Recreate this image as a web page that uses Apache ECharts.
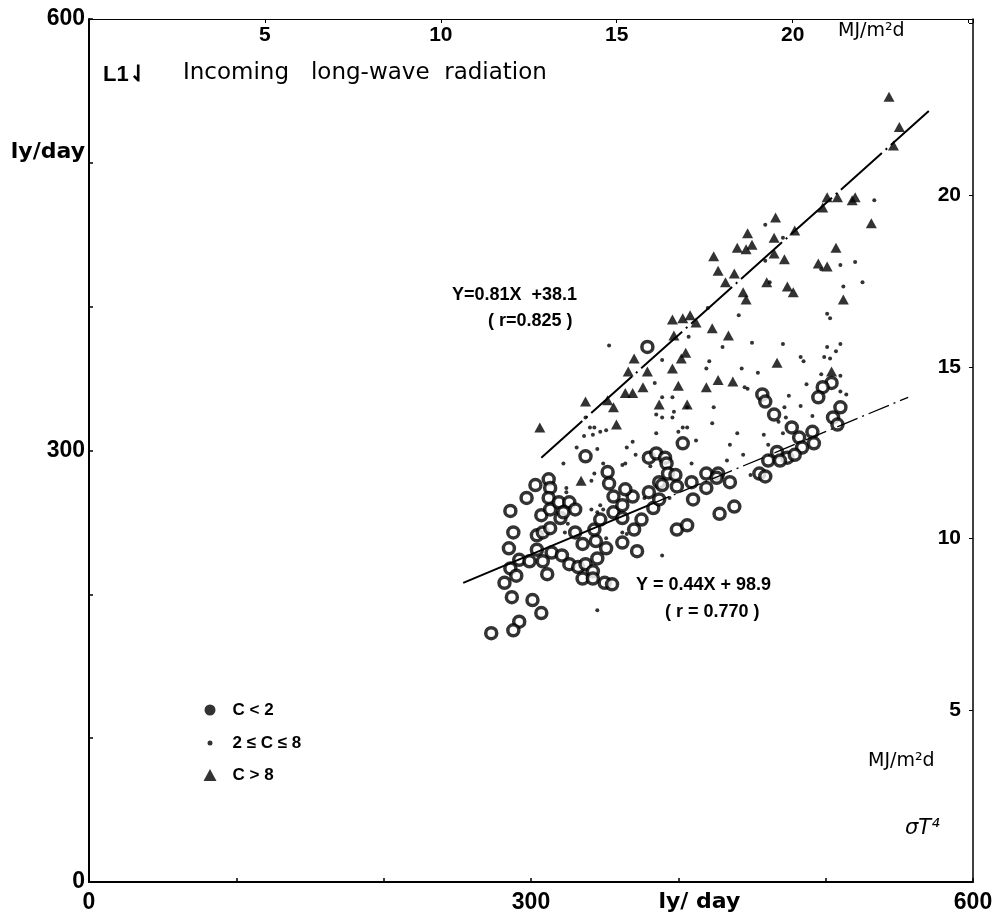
<!DOCTYPE html>
<html lang="en">
<head>
  <meta charset="utf-8" />
  <title>Incoming long-wave radiation</title>
  <style>
    html, body { margin: 0; padding: 0; background: #fff; }
    #main { width: 999px; height: 920px; }
  </style>
</head>
<body>
  <div id="main"></div>
  <script src="https://cdn.jsdelivr.net/npm/echarts@6/dist/echarts.min.js"></script>
  <script>
    "use strict";

    // 1 MJ/m2 = 23.88 ly
    var LY_PER_MJ = 23.88;
    var lyMax = 600;
    var mjMax = lyMax / LY_PER_MJ;

    var lyLabels = [0, 300, 600];
    var mjLabels = [5, 10, 15, 20];

    // C < 2 (clear sky)
    var circlePts = [
      [312, 280], [303, 276], [313, 274], [297, 267], [312, 267], [286, 258], [307, 255], [313, 259],
      [319, 264], [326, 264], [320, 253], [322, 257], [330, 259], [337, 296], [352, 285], [353, 277],
      [356, 268], [356, 257], [288, 243], [304, 241], [308, 243], [313, 246], [330, 243], [335, 235],
      [344, 237], [343, 245], [347, 252], [285, 232], [304, 231], [314, 229], [321, 227], [292, 224],
      [299, 223], [308, 223], [326, 221], [332, 219], [337, 221], [351, 232], [345, 225], [286, 218],
      [290, 213], [311, 214], [335, 211], [342, 216], [342, 211], [350, 208], [355, 207], [282, 208],
      [287, 198], [301, 196], [307, 187], [292, 181], [288, 175], [273, 173],
      [403, 305], [380, 295], [385, 298], [391, 295], [392, 291], [393, 284], [398, 283], [387, 278],
      [389, 276], [399, 275], [409, 278], [419, 284], [427, 284], [426, 281], [419, 274], [435, 278],
      [410, 266], [383, 260], [387, 266], [380, 271], [369, 268], [364, 273], [362, 262], [362, 253],
      [370, 245], [375, 252], [362, 236], [372, 230], [399, 245], [406, 248], [428, 256], [438, 261],
      [457, 339], [459, 334], [455, 284], [459, 282], [461, 293],
      [504, 347], [498, 344], [495, 337], [510, 330], [505, 323], [508, 318], [491, 313], [492, 305],
      [482, 309], [484, 302], [477, 316], [465, 325], [467, 299], [474, 295], [479, 297], [469, 293],
      [379, 372]
    ];

    // 2 <= C <= 8
    var dotPts = [
      [337, 323], [331, 302], [322, 291], [336, 310], [342, 311], [340, 316], [343, 316], [347, 313],
      [351, 314], [345, 301], [349, 291], [343, 284], [341, 279], [324, 274], [324, 271], [325, 249],
      [323, 243], [341, 259], [345, 257], [349, 259], [347, 262], [351, 239], [345, 189],
      [389, 227], [406, 330], [400, 313], [403, 316], [406, 316], [384, 347], [396, 337], [389, 337],
      [385, 325], [389, 323], [396, 323], [397, 327], [385, 312], [369, 306], [365, 302], [371, 297],
      [364, 291], [362, 290], [381, 289], [409, 291], [412, 307], [423, 319], [424, 330], [435, 304],
      [440, 312], [444, 297], [433, 293], [449, 283], [419, 357], [443, 357], [454, 354], [445, 344],
      [447, 343], [458, 311], [461, 304], [377, 267], [394, 267], [365, 242], [362, 243],
      [497, 353], [510, 352], [514, 339], [510, 341], [487, 346], [475, 338], [483, 331], [472, 330],
      [473, 323], [491, 324], [471, 312], [468, 320],
      [533, 474], [471, 448], [520, 431], [510, 429], [497, 426], [525, 417], [512, 414], [501, 395],
      [503, 392], [471, 374], [501, 372], [510, 374], [507, 369], [483, 365], [485, 362], [499, 365],
      [503, 364], [462, 417], [459, 457], [459, 432], [420, 399], [441, 394], [407, 379], [430, 372],
      [450, 375], [389, 363], [421, 362], [353, 373]
    ];

    // C > 8 (overcast)
    var trianglePts = [
      [337, 334], [306, 316], [358, 318], [356, 330], [334, 279], [352, 335],
      [400, 345], [419, 344], [427, 349], [437, 348], [406, 332], [387, 332], [376, 344], [369, 340],
      [364, 340], [379, 355], [366, 355], [396, 357], [504, 355],
      [543, 546], [550, 525], [546, 512], [501, 476], [508, 476], [518, 474], [520, 476], [498, 469],
      [479, 453], [466, 462], [465, 448], [465, 437], [472, 433], [531, 458], [507, 441], [495, 430],
      [501, 428], [474, 414], [478, 410], [512, 405], [467, 361],
      [447, 451], [440, 441], [446, 440], [450, 443], [424, 435], [427, 425], [438, 423], [432, 417],
      [444, 410], [446, 405], [460, 417], [396, 391], [403, 392], [408, 394], [412, 389], [397, 380],
      [423, 385], [434, 380], [405, 368], [402, 364], [370, 364]
    ];

    // regression lines as drawn
    var upperFit = [[307, 295], [570, 536]];
    var lowerFitSolid = [[254, 208], [380, 262]];
    var lowerFitDash = [[380, 262], [556, 337]];

    var numFont = 'Liberation Sans';
    var wordFont = 'DejaVu Sans';
    var black = '#000';

    var chart = echarts.init(document.getElementById('main'), null, { renderer: 'canvas' });

    function legendFor(name, icon, w, h, cy, pad) {
      return {
        data: [{ name: name, icon: icon }],
        left: 205 - w / 2,
        top: cy - 10,
        itemWidth: w,
        itemHeight: h,
        itemStyle: { color: black, borderWidth: 0 },
        selectedMode: false,
        textStyle: {
          fontFamily: numFont, fontSize: 17, fontWeight: 'bold', color: black,
          lineHeight: 20, padding: [0, 0, 0, pad]
        }
      };
    }

    var option = {
      animation: false,
      backgroundColor: '#fff',
      grid: { left: 89, right: 26, top: 19, bottom: 38 },
      legend: [
        legendFor('C < 2', 'circle', 11, 11, 705, 12),
        legendFor('2 \u2264 C \u2264 8', 'circle', 5, 5, 738, 15),
        legendFor('C > 8', 'triangle', 13, 12, 770, 11)
      ],
      xAxis: [{
        type: 'value', position: 'bottom', min: 0, max: lyMax, interval: 100,
        axisLine: { onZero: false, lineStyle: { color: black, width: 2 } },
        axisTick: { show: true, inside: true, length: 4, lineStyle: { color: black, width: 1.5 } },
        splitLine: { show: false },
        axisLabel: {
          margin: 9, showMinLabel: true, showMaxLabel: true,
          fontFamily: numFont, fontSize: 23, fontWeight: 'bold', color: black,
          formatter: function (v) {
            if (lyLabels.indexOf(v) >= 0) return String(v);
            if (v === 400) return '{u|ly/ day}';
            return '';
          },
          rich: { u: { fontFamily: wordFont, fontSize: 22, fontWeight: 'bold', color: black, padding: [0, 0, 0, 42] } }
        }
      }, {
        type: 'value', position: 'top', min: 0, max: mjMax, interval: 5,
        axisLine: { onZero: false, lineStyle: { color: black, width: 1 } },
        axisTick: { show: true, inside: true, length: 4, lineStyle: { color: black, width: 1 } },
        splitLine: { show: false },
        axisLabel: {
          inside: true, margin: 6,
          fontFamily: numFont, fontSize: 21, fontWeight: 'bold', color: black,
          formatter: function (v) { return mjLabels.indexOf(v) >= 0 ? String(v) : ''; }
        }
      }],
      yAxis: [{
        type: 'value', position: 'left', min: 0, max: lyMax, interval: 100,
        axisLine: { onZero: false, lineStyle: { color: black, width: 2 } },
        axisTick: { show: true, inside: true, length: 4, lineStyle: { color: black, width: 1.5 } },
        splitLine: { show: false },
        axisLabel: {
          margin: 4, showMinLabel: true, showMaxLabel: true,
          fontFamily: numFont, fontSize: 23, fontWeight: 'bold', color: black,
          formatter: function (v) {
            if (lyLabels.indexOf(v) >= 0) return String(v);
            if (v === 500) return '{u|ly/day}';
            return '';
          },
          rich: { u: { fontFamily: wordFont, fontSize: 22, fontWeight: 'bold', color: black, padding: [0, 0, 22, 0] } }
        }
      }, {
        type: 'value', position: 'right', min: 0, max: mjMax, interval: 5,
        axisLine: { onZero: false, lineStyle: { color: black, width: 1.5 } },
        axisTick: { show: true, inside: true, length: 4, lineStyle: { color: black, width: 1 } },
        splitLine: { show: false },
        axisLabel: {
          inside: true, margin: 12,
          fontFamily: numFont, fontSize: 21, fontWeight: 'bold', color: black,
          formatter: function (v) { return mjLabels.indexOf(v) >= 0 ? String(v) : ''; }
        }
      }],
      graphic: [
        { type: 'text', left: 103, top: 64, style: { text: 'L1\u21C3', fontFamily: numFont, fontSize: 22, fontWeight: 'bold', fill: black } },
        { type: 'text', left: 183, top: 62, style: { text: 'Incoming   long-wave  radiation', fontFamily: wordFont, fontSize: 23, fill: black } },
        { type: 'text', left: 838, top: 22, style: { text: 'MJ/m\u00B2d', fontFamily: wordFont, fontSize: 19, fill: black } },
        { type: 'text', left: 868, top: 752, style: { text: 'MJ/m\u00B2d', fontFamily: wordFont, fontSize: 19, fill: black } },
        { type: 'text', left: 905, top: 818, style: { text: '\u03C3T\u2074', fontFamily: wordFont, fontSize: 21, fontStyle: 'italic', fill: black } },
        { type: 'text', left: 452, top: 286, style: { text: 'Y=0.81X  +38.1', fontFamily: numFont, fontSize: 18, fontWeight: 'bold', fill: black } },
        { type: 'text', left: 488, top: 312, style: { text: '( r=0.825 )', fontFamily: numFont, fontSize: 18, fontWeight: 'bold', fill: black } },
        { type: 'text', left: 636, top: 576, style: { text: 'Y = 0.44X + 98.9', fontFamily: numFont, fontSize: 18, fontWeight: 'bold', fill: black } },
        { type: 'text', left: 665, top: 603, style: { text: '( r = 0.770 )', fontFamily: numFont, fontSize: 18, fontWeight: 'bold', fill: black } }
      ],
      series: [{
        name: 'C < 2', type: 'scatter', data: circlePts,
        symbol: 'circle', symbolSize: 11,
        itemStyle: { color: '#fff', borderColor: black, borderWidth: 3.5 },
        emphasis: { disabled: true }, silent: true
      }, {
        name: '2 \u2264 C \u2264 8', type: 'scatter', data: dotPts,
        symbol: 'circle', symbolSize: 4,
        itemStyle: { color: black },
        emphasis: { disabled: true }, silent: true
      }, {
        name: 'C > 8', type: 'scatter', data: trianglePts,
        symbol: 'triangle', symbolSize: [11, 10],
        itemStyle: { color: black },
        emphasis: { disabled: true }, silent: true
      }, {
        type: 'line', data: upperFit, symbol: 'none', silent: true,
        lineStyle: { color: black, width: 2, type: [55, 5, 2, 5] }
      }, {
        type: 'line', data: lowerFitSolid, symbol: 'none', silent: true,
        lineStyle: { color: black, width: 2 }
      }, {
        type: 'line', data: lowerFitDash, symbol: 'none', silent: true,
        lineStyle: { color: black, width: 1.3, type: [22, 5, 2, 5] }
      }]
    };

    chart.setOption(option);
  </script>
</body>
</html>
